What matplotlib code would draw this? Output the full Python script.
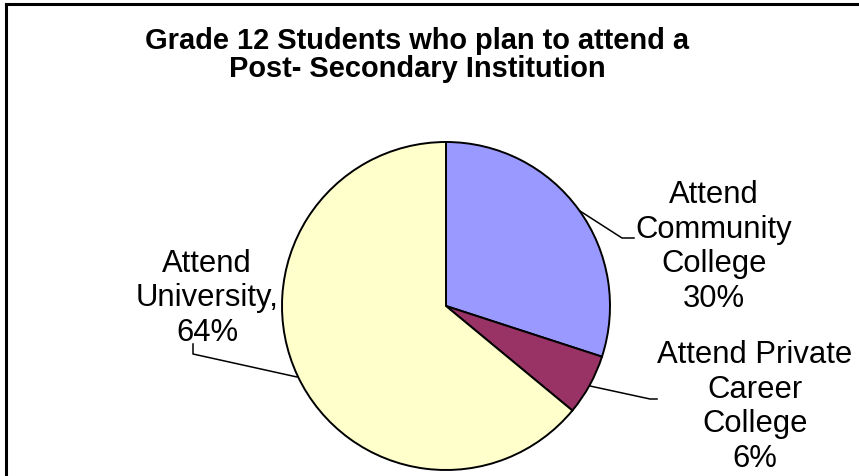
import matplotlib
matplotlib.use("Agg")
import matplotlib.pyplot as plt

# Share of grade 12 students by planned institution (percent)
categories = ["Attend Community College", "Attend Private Career College", "Attend University"]
shares = [30, 6, 64]
label_texts = ["Attend\nCommunity\nCollege\n30%", "Attend Private\nCareer\nCollege\n6%", "Attend\nUniversity,\n64%"]
slice_colors = ["#9999FF", "#993366", "#FFFFCC"]
title = "Grade 12 Students who plan to attend a\nPost- Secondary Institution"

W, H = 859, 477
plt.rcParams["font.family"] = ["Liberation Sans", "DejaVu Sans"]


def px(x, y):
    # pixel position (origin top-left) -> data coords
    return x, H - y


fig = plt.figure(figsize=(W / 100, H / 100), dpi=100)
ax = fig.add_axes([0, 0, 1, 1])

ax.pie(
    shares,
    colors=slice_colors,
    startangle=90,
    counterclock=False,
    center=px(446, 307),
    radius=164,
    wedgeprops=dict(edgecolor="black", linewidth=1.4),
)
ax.set_xlim(0, W)
ax.set_ylim(0, H)
ax.set_aspect("equal")
ax.axis("off")

# outer frame (right and bottom edges fall outside the picture)
ax.plot([5.5, W + 5], [H - 5, H - 5], color="black", lw=2.2, clip_on=False)
ax.plot([5.5, 5.5], [H - 5, -5], color="black", lw=2.2, clip_on=False)

# baseline given is that of the last line
ax.text(*px(417, 77), title, ha="center", va="baseline", fontsize=20.9,
        fontweight="bold", linespacing=1.0)

# data labels with leader lines
label_pos = [(714, 307), (755, 467), (207, 341)]
leaders = [
    [(580, 212), (622, 239), (634, 239)],
    [(590, 387), (650, 400), (657, 400)],
    [(297, 378), (193, 355), (193, 345)],
]
for text, (lx, ly), pts in zip(label_texts, label_pos, leaders):
    ax.text(*px(lx, ly), text, ha="center", va="baseline", fontsize=22.3,
            linespacing=1.2)
    xs = [p[0] for p in pts]
    ys = [H - p[1] for p in pts]
    ax.plot(xs, ys, color="black", lw=1.1)

fig.savefig("out.png", dpi=100)
